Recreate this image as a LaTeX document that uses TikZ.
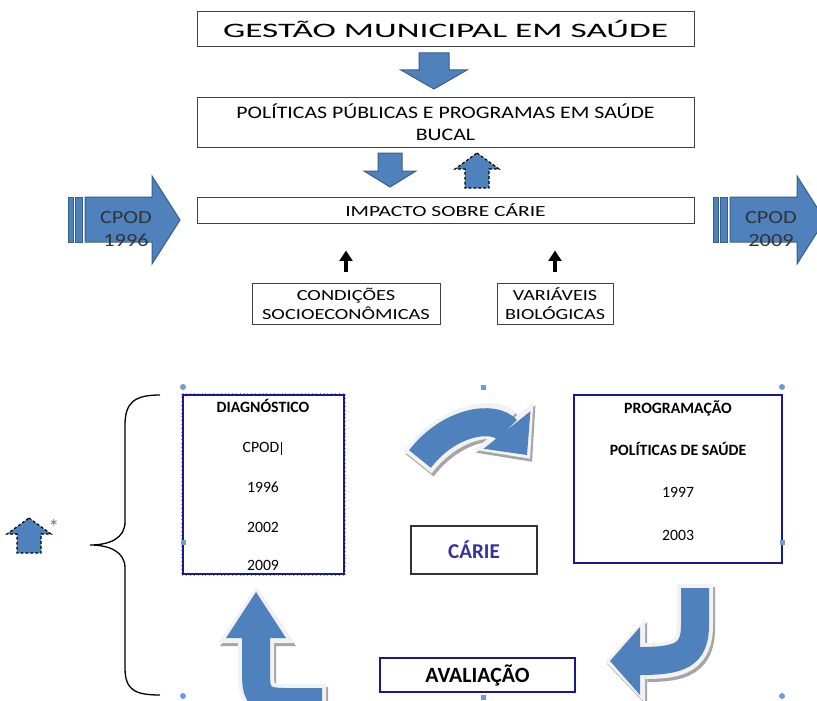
\documentclass[tikz,border=0pt]{standalone}
\usepackage{fontspec}
\setmainfont{Carlito}
\usepackage{graphicx}
\usetikzlibrary{arrows.meta}
\definecolor{Office_Blue}{RGB}{79,129,189}
\definecolor{Office_Edge}{RGB}{56,93,138}
\definecolor{Box_Navy}{RGB}{26,26,140}
\definecolor{Carie_Text}{RGB}{51,51,153}
\definecolor{Handle}{RGB}{110,155,220}
\definecolor{Rim}{RGB}{242,242,242}
\definecolor{Rim_Shadow}{RGB}{165,165,165}
\definecolor{Cpod_Text}{RGB}{51,51,51}
\newdimen\px \px=0.25mm
\newcommand{\wide}[2]{\scalebox{#1}[1]{#2}}
% bent block arrow: path, head length, head width
\newcommand{\blockarrow}[3]{%
    \pgfmathsetlengthmacro{\hl}{#2}\pgfmathsetlengthmacro{\hw}{#3}%
    \pgfmathsetlengthmacro{\rhl}{#2+2.5mm}\pgfmathsetlengthmacro{\rhw}{#3+4mm}%
    \draw[Rim_Shadow, line width=9mm, shorten <=-1mm, shorten >=-1.2mm, shift={(2,3)},
        -{Triangle[length=\rhl, width=\rhw, line width=0pt]}] #1;
    \draw[Rim, line width=9mm, shorten <=-1mm, shorten >=-1.2mm,
        -{Triangle[length=\rhl, width=\rhw, line width=0pt]}] #1;
    \draw[Office_Blue, line width=7mm,
        -{Triangle[length=\hl, width=\hw, line width=0pt]}] #1;
}

\begin{document}
\begin{tikzpicture}[x=0.25mm, y=-0.25mm,
    every node/.style={inner sep=0pt},
    plain_box/.style={draw=black!75, line width=1\px},
    navy_box/.style={draw=Box_Navy, line width=2.2\px},
    block/.style={fill=Office_Blue, draw=Office_Edge, line width=1\px},
    up_tick/.style={line width=3.2\px, -{Triangle[length=2.6mm, width=3.2mm]},
        shorten <=11\px, shorten >=27\px},
    box_text/.style={anchor=base, font=\fontsize{11.2}{13}\selectfont},
    bold_text/.style={anchor=base, font=\fontsize{11.2}{13}\selectfont\bfseries},
    handle/.style={fill=Handle}]
    %% Background
    \useasboundingbox (0,0) rectangle (817,700);
    \clip (0,0) rectangle (817,700);

    %% Top chain
    \node[plain_box, minimum width=497\px, minimum height=35\px,
        font=\fontsize{14.6}{17}\selectfont] (gestao) at (445.5,29.5)
        {\wide{1.72}{GESTÃO MUNICIPAL EM SAÚDE}};
    \node[plain_box, minimum width=497\px, minimum height=49\px, align=center,
        font=\fontsize{12.5}{15.5}\selectfont] (politicas) at (445.5,122.5)
        {\wide{1.24}{POLÍTICAS PÚBLICAS E PROGRAMAS EM SAÚDE}\\\wide{1.24}{BUCAL}};
    \node[plain_box, minimum width=497\px, minimum height=26\px,
        font=\fontsize{11}{13}\selectfont] (impacto) at (445.5,210)
        {\wide{1.39}{IMPACTO SOBRE CÁRIE}};
    \node[plain_box, minimum width=188\px, minimum height=41\px, align=center,
        font=\fontsize{11}{13.5}\selectfont] (condicoes) at (346,304)
        {\wide{1.32}{CONDIÇÕES}\\\wide{1.32}{SOCIOECONÔMICAS}};
    \node[plain_box, minimum width=116\px, minimum height=41\px, align=center,
        font=\fontsize{11}{13.5}\selectfont] (variaveis) at (555,304)
        {\wide{1.3}{VARIÁVEIS}\\\wide{1.3}{BIOLÓGICAS}};

    %% Block arrows
    \draw[block] (419,53) to (449,53) to (449,70) to (467,70) to (434,89)
        to (401,70) to (419,70) to cycle;
    \draw[block] (378,153) to (402,153) to (402,171) to (416,171) to (390,187)
        to (364,171) to (378,171) to cycle;
    \foreach \cx/\ty in {477/153, 29/518}
    {
        \draw[fill=Office_Blue, line width=1.2\px, dash pattern=on 2pt off 1.5pt]
            (\cx,\ty) to (\cx+22,\ty+16) to (\cx+12,\ty+16) to (\cx+12,\ty+35)
            to (\cx-12,\ty+35) to (\cx-12,\ty+16) to (\cx-22,\ty+16) to cycle;
    }

    %% CPOD
    \foreach \x/\yr in {68/1996, 713/2009}
    {
        \draw[block] (\x,197) rectangle (\x+5,242);
        \draw[block] (\x+7,197) rectangle (\x+14,242);
        \draw[block] (\x+17,197) to (\x+84,197) to (\x+84,176) to (\x+112,220)
            to (\x+84,264) to (\x+84,242) to (\x+17,242) to cycle;
        \node[align=center, text=Cpod_Text, font=\fontsize{13.2}{17}\selectfont]
            (cpod-\yr) at (\x+58,229) {\wide{1.2}{CPOD}\\\wide{1.2}{\yr}};
    }

    \draw[up_tick] (condicoes.north) to (condicoes.north |- impacto.south);
    \draw[up_tick] (variaveis.north) to (variaveis.north |- impacto.south);

    %% Brace
    \draw[line width=1.3\px] (160,395) .. controls (135,395) and (125,402) .. (125,425)
        to (125,522) .. controls (125,538) and (110,545) .. (90,545)
        .. controls (110,545) and (125,552) .. (125,568)
        to (125,668) .. controls (125,690) and (135,695) .. (160,695);
    \node[text=black!55, font=\fontsize{15}{15}\selectfont] (asterisco) at (54,527) {*};

    %% Cycle
    \blockarrow{(420,459) .. controls (450,420) and (495,415) .. (527,455)}{8mm}{15mm}
    \blockarrow{(695,588) to (695,625) .. controls (695,655) and (680,661) .. (610,661)}{7.5mm}{17mm}
    \blockarrow{(322,702) to (285,702) .. controls (256,702) and (256,692) .. (256,668) to (256,592)}{11.5mm}{15mm}

    \draw[Handle, dotted, line width=1\px] (181.5,393.5) rectangle (345.5,575.5);
    \node[navy_box, minimum width=161\px, minimum height=179\px] (diagnostico) at (263.5,484.5) {};
    \node[bold_text] (diag-titulo) at (263,412) {DIAGNÓSTICO};
    \node[box_text] (diag-cpod) at (261,452) {CPOD};
    \draw[line width=1.3\px] ([xshift=2\px]diag-cpod.north east) to ([xshift=2\px,yshift=-3\px]diag-cpod.south east);
    \foreach \yr/\y in {1996/492, 2002/532, 2009/570}
        \node[box_text] (diag-\yr) at (263,\y) {\yr};

    \node[navy_box, minimum width=208\px, minimum height=168\px] (programacao) at (678,479) {};
    \node[bold_text] (prog-titulo) at (678,413) {PROGRAMAÇÃO};
    \node[bold_text] (prog-politicas) at (678,455) {POLÍTICAS DE SAÚDE};
    \foreach \yr/\y in {1997/497, 2003/540}
        \node[box_text] (prog-\yr) at (678,\y) {\yr};

    \node[draw=black!80, line width=1.5\px, minimum width=126\px, minimum height=48\px,
        text=Carie_Text, font=\fontsize{15}{15}\selectfont\bfseries] (carie) at (474,550) {CÁRIE};
    \node[navy_box, minimum width=195\px, minimum height=34\px,
        font=\fontsize{15.5}{15.5}\selectfont\bfseries] (avaliacao) at (477.5,675) {AVALIAÇÃO};

    %% Handles
    \foreach \x/\y in {183/387, 782/387, 183/696, 782/696}
        \fill[handle] (\x,\y) circle[radius=0.75mm];
    \foreach \x/\y in {483/387, 183/542, 782/542, 483/697}
        \fill[handle] (\x-2.5,\y-2.5) rectangle (\x+2.5,\y+2.5);
\end{tikzpicture}
\end{document}
